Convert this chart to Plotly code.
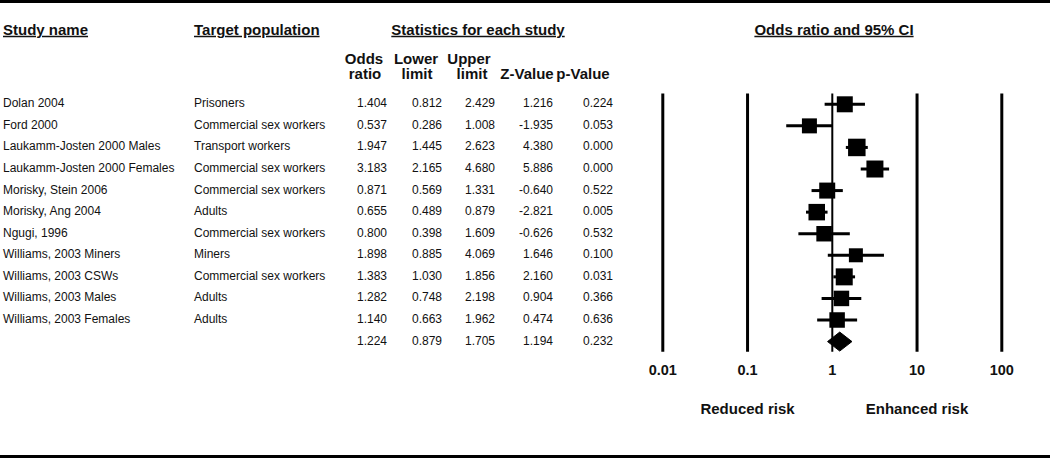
import plotly.graph_objects as go

# ---------------- data ----------------
study_names = [
    "Dolan 2004", "Ford 2000", "Laukamm-Josten 2000 Males", "Laukamm-Josten 2000 Females",
    "Morisky, Stein 2006", "Morisky, Ang 2004", "Ngugi, 1996", "Williams, 2003 Miners",
    "Williams, 2003 CSWs", "Williams, 2003 Males", "Williams, 2003 Females",
]
target_population = [
    "Prisoners", "Commercial sex workers", "Transport workers", "Commercial sex workers",
    "Commercial sex workers", "Adults", "Commercial sex workers", "Miners",
    "Commercial sex workers", "Adults", "Adults",
]
odds_ratio = [1.404, 0.537, 1.947, 3.183, 0.871, 0.655, 0.800, 1.898, 1.383, 1.282, 1.140]
lower_limit = [0.812, 0.286, 1.445, 2.165, 0.569, 0.489, 0.398, 0.885, 1.030, 0.748, 0.663]
upper_limit = [2.429, 1.008, 2.623, 4.680, 1.331, 0.879, 1.609, 4.069, 1.856, 2.198, 1.962]
z_value = [1.216, -1.935, 4.380, 5.886, -0.640, -2.821, -0.626, 1.646, 2.160, 0.904, 0.474]
p_value = [0.224, 0.053, 0.000, 0.000, 0.522, 0.005, 0.532, 0.100, 0.031, 0.366, 0.636]

summary_or = 1.224
summary_lower = 0.879
summary_upper = 1.705
summary_z = 1.194
summary_p = 0.232

box_size_px = [16, 15, 17.5, 17, 16, 16.5, 15.5, 14, 17, 15.5, 15.5]

axis_ticks = [0.01, 0.1, 1, 10, 100]
axis_tick_labels = ["0.01", "0.1", "1", "10", "100"]

# ---------------- geometry ----------------
W, H = 1050, 458
PX_PER_DEC = 84.75
X_ONE_PX = 832.3
ROW0_PX = 104.3
ROW_PX = 21.57


def row_of(px):
    return (px - ROW0_PX) / ROW_PX


FONT = "Liberation Sans, Arial, sans-serif"
DATA_FONT = dict(family=FONT, size=12, color="#111111")
BOLD_FONT = dict(family=FONT, size=15, color="#111111")

n = len(study_names)
rows = list(range(n))
sum_row = n

fig = go.Figure()

# reference vertical lines
for v in axis_ticks:
    fig.add_trace(go.Scatter(
        x=[v, v], y=[-0.5, 11.47], mode="lines",
        line=dict(color="black", width=2 if v == 1 else 3),
        hoverinfo="skip", showlegend=False))

# confidence intervals
ci_x, ci_y = [], []
for lo, hi, r in zip(lower_limit, upper_limit, rows):
    ci_x += [lo, hi, None]
    ci_y += [r, r, None]
fig.add_trace(go.Scatter(x=ci_x, y=ci_y, mode="lines",
                         line=dict(color="black", width=3),
                         hoverinfo="skip", showlegend=False))

# point estimates
fig.add_trace(go.Scatter(
    x=odds_ratio, y=rows, mode="markers",
    marker=dict(symbol="square", size=box_size_px, color="black", opacity=1,
                line=dict(width=0)),
    showlegend=False))

# summary diamond
dh = 0.44
fig.add_trace(go.Scatter(
    x=[summary_lower, summary_or, summary_upper, summary_or, summary_lower],
    y=[sum_row, sum_row - dh, sum_row, sum_row + dh, sum_row],
    mode="lines", fill="toself", fillcolor="black",
    line=dict(color="black", width=1), showlegend=False, hoverinfo="skip"))

# axis tick labels
fig.add_trace(go.Scatter(
    x=axis_ticks, y=[row_of(371)] * len(axis_ticks), mode="text",
    text=axis_tick_labels, textposition="middle center",
    textfont=dict(family=FONT, size=14.5, color="#111111"),
    texttemplate="<b>%{text}</b>", showlegend=False, hoverinfo="skip"))

fig.add_trace(go.Scatter(
    x=[0.1, 10], y=[row_of(410)] * 2, mode="text",
    text=["<b>Reduced risk</b>", "<b>Enhanced risk</b>"], textposition="middle center",
    textfont=BOLD_FONT, showlegend=False, hoverinfo="skip"))

# ---------------- table text ----------------
def fmt(v):
    return f"{v:.3f}"


fig.add_trace(go.Scatter(
    x=[3] * n, y=rows, mode="text", text=study_names, textposition="middle right",
    textfont=DATA_FONT, xaxis="x2", showlegend=False, hoverinfo="skip"))
fig.add_trace(go.Scatter(
    x=[194] * n, y=rows, mode="text", text=target_population, textposition="middle right",
    textfont=DATA_FONT, xaxis="x2", showlegend=False, hoverinfo="skip"))

columns = [
    (387, odds_ratio + [summary_or]),
    (442, lower_limit + [summary_lower]),
    (495, upper_limit + [summary_upper]),
    (553, z_value + [summary_z]),
    (613, p_value + [summary_p]),
]
for xr, vals in columns:
    fig.add_trace(go.Scatter(
        x=[xr] * (n + 1), y=rows + [sum_row], mode="text",
        text=[fmt(v) for v in vals], textposition="middle left",
        textfont=DATA_FONT, xaxis="x2", showlegend=False, hoverinfo="skip"))

# headers
headers = [
    (3, row_of(31), "<b><u>Study name</u></b>", "middle right"),
    (194, row_of(31), "<b><u>Target population</u></b>", "middle right"),
    (478, row_of(31), "<b><u>Statistics for each study</u></b>", "middle center"),
    (834, row_of(31), "<b><u>Odds ratio and 95% CI</u></b>", "middle center"),
    (364, row_of(60), "<b>Odds</b>", "middle center"),
    (365, row_of(75), "<b>ratio</b>", "middle center"),
    (416, row_of(60), "<b>Lower</b>", "middle center"),
    (417, row_of(75), "<b>limit</b>", "middle center"),
    (469, row_of(60), "<b>Upper</b>", "middle center"),
    (472, row_of(75), "<b>limit</b>", "middle center"),
    (527, row_of(75), "<b>Z-Value</b>", "middle center"),
    (583, row_of(75), "<b>p-Value</b>", "middle center"),
]
for hx, hy, ht, tp in headers:
    fig.add_trace(go.Scatter(
        x=[hx], y=[hy], mode="text", text=[ht], textposition=tp,
        textfont=BOLD_FONT, xaxis="x2", showlegend=False, hoverinfo="skip"))

# frame lines top / bottom
fig.add_shape(type="line", xref="paper", yref="paper", x0=0, x1=1, y0=1 - 1.5 / H, y1=1 - 1.5 / H,
              line=dict(color="black", width=3))
fig.add_shape(type="line", xref="paper", yref="paper", x0=0, x1=1, y0=1.5 / H, y1=1.5 / H,
              line=dict(color="black", width=3))

fig.update_layout(
    width=W, height=H,
    margin=dict(l=0, r=0, t=0, b=0),
    paper_bgcolor="white", plot_bgcolor="white",
    showlegend=False,
    xaxis=dict(type="log", range=[-X_ONE_PX / PX_PER_DEC, (W - X_ONE_PX) / PX_PER_DEC],
               visible=False, fixedrange=True),
    xaxis2=dict(range=[0, W], overlaying="x", visible=False, fixedrange=True),
    yaxis=dict(range=[row_of(H), row_of(0)], visible=False, fixedrange=True),
)

fig.write_html(
    "out.html",
    config={"displayModeBar": False},
    post_script="document.body.style.margin='0';document.body.style.overflow='hidden';",
)
